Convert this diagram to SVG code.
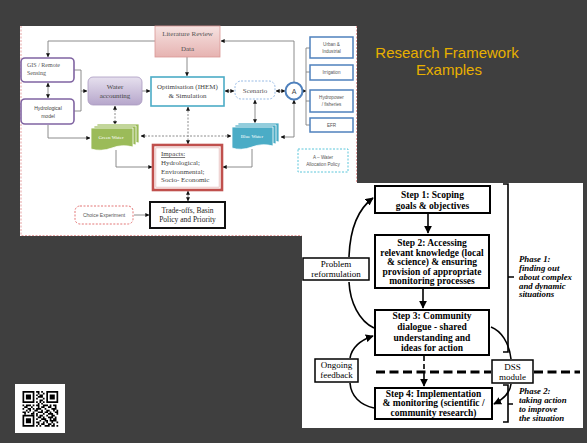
<svg xmlns="http://www.w3.org/2000/svg" width="587" height="443" viewBox="0 0 587 443">
<defs>
<style>
.c{fill:none;stroke:#7f7f7f;stroke-width:0.9}
.d{stroke-dasharray:2,1.5}
.k{fill:none;stroke:#000;stroke-width:1.6}
.sf{font-family:"Liberation Serif",serif}
.ss{font-family:"Liberation Sans",Arial,sans-serif}
.bt{font-family:"Liberation Serif",serif;font-weight:bold;font-size:9.5px;text-anchor:middle;fill:#000}
.ph{font-family:"Liberation Serif",serif;font-weight:bold;font-style:italic;font-size:8.8px;fill:#000}
.rb{fill:#fff;stroke:#4f81bd;stroke-width:1.5}
.rt{font-family:"Liberation Sans",Arial,sans-serif;font-size:4.6px;fill:#555;text-anchor:middle}
</style>
<marker id="a" viewBox="0 0 6 6" refX="5.5" refY="3" markerUnits="userSpaceOnUse" markerWidth="4" markerHeight="4" orient="auto-start-reverse"><path d="M0,0L6,3L0,6z" fill="#111"/></marker>
<marker id="b" viewBox="0 0 10 10" refX="9" refY="5" markerUnits="userSpaceOnUse" markerWidth="8" markerHeight="8" orient="auto-start-reverse"><path d="M0,0L10,5L0,10z" fill="#000"/></marker>
<linearGradient id="gp" x1="0" y1="0" x2="0" y2="1"><stop offset="0" stop-color="#f6e2e1"/><stop offset="1" stop-color="#e6b3b1"/></linearGradient>
<linearGradient id="gv" x1="0" y1="0" x2="0" y2="1"><stop offset="0" stop-color="#e6e0ee"/><stop offset="1" stop-color="#b6a6cb"/></linearGradient>
</defs>
<rect width="587" height="443" fill="#3f3f3f"/>

<!-- top framework image -->
<g id="framework1">
<rect x="20" y="26" width="337" height="210" fill="#fff"/>
<path d="M21,26V235.5H302M356.5,26V183" fill="none" stroke="#e08a8a" stroke-width="0.8" stroke-dasharray="2,1.5"/>
</g>

<g id="connectors1">
<path class="c" d="M155,41H48V57" marker-end="url(#a)"/>
<path class="c" d="M294,82V41H221" marker-end="url(#a)"/>
<path class="c" d="M294,100V137H281" marker-start="url(#a)" marker-end="url(#a)"/>
<path class="c" d="M187,57V76" marker-end="url(#a)"/>
<path class="c" d="M48,83V98" marker-start="url(#a)" marker-end="url(#a)"/>
<path class="c" d="M74,70H81V111H74"/>
<path class="c" d="M81,91H87" marker-end="url(#a)"/>
<path class="c" d="M142,91H150" marker-end="url(#a)"/>
<path class="c" d="M225,91H234" marker-start="url(#a)" marker-end="url(#a)"/>
<path class="c" d="M276,91H285" marker-start="url(#a)" marker-end="url(#a)"/>
<path class="c" d="M303,91H306" marker-end="url(#a)"/>
<path class="c" d="M310,48H306V125H310M306,72H310M306,101H310"/>
<path class="c d" d="M115,106V125" marker-start="url(#a)" marker-end="url(#a)"/>
<path class="c d" d="M141,136H231" marker-start="url(#a)" marker-end="url(#a)"/>
<path class="c d" d="M188,107V144" marker-start="url(#a)" marker-end="url(#a)"/>
<path class="c" d="M255,100V123" marker-start="url(#a)" marker-end="url(#a)"/>
<path class="c" d="M48,125V138H90" marker-end="url(#a)"/>
<path class="c" d="M116,150V167H152" marker-end="url(#a)"/>
<path class="c" d="M252,149V167H223" marker-end="url(#a)"/>
<path class="c" d="M188,191V201" marker-start="url(#a)" marker-end="url(#a)"/>
<path class="c" d="M134,215H149" marker-end="url(#a)"/>
</g>

<g id="lit">
<rect x="155" y="26" width="65" height="31" fill="url(#gp)" stroke="#d99694" stroke-width="0.8"/>
<text class="sf" x="187.5" y="35.5" font-size="7" fill="#555" text-anchor="middle">Literature Review</text>
<text class="sf" x="187.5" y="51" font-size="7" fill="#555" text-anchor="middle">Data</text>
</g>
<g id="gis">
<rect x="21" y="58" width="53" height="24" rx="4" fill="#fff" stroke="#8064a2" stroke-width="1.6"/>
<text class="sf" x="27" y="67" font-size="6" fill="#555">GIS / Remote</text>
<text class="sf" x="27" y="75" font-size="6" fill="#555">Sensing</text>
</g>
<g id="hydro">
<rect x="21" y="99" width="53" height="25" rx="4" fill="#fff" stroke="#8064a2" stroke-width="1.6"/>
<text class="ss" x="48" y="110" font-size="5" fill="#444" text-anchor="middle">Hydrological</text>
<text class="ss" x="48" y="118" font-size="5" fill="#444" text-anchor="middle">model</text>
</g>
<g id="wateracc">
<rect x="88" y="77" width="54" height="28" rx="5" fill="url(#gv)" stroke="#a999c0" stroke-width="0.8"/>
<text class="sf" x="115" y="88.5" font-size="7" fill="#444" text-anchor="middle">Water</text>
<text class="sf" x="115" y="98" font-size="7" fill="#444" text-anchor="middle">accounting</text>
</g>
<g id="optim">
<rect x="151" y="77" width="73" height="29" fill="#fff" stroke="#4bacc6" stroke-width="1.6"/>
<text class="sf" x="187.5" y="88.5" font-size="7" fill="#444" text-anchor="middle">Optimisation (IHEM)</text>
<text class="sf" x="187.5" y="97.5" font-size="7" fill="#444" text-anchor="middle">&amp; Simulation</text>
</g>
<g id="scenario">
<rect x="235" y="81" width="40" height="18" rx="6" fill="#fff" stroke="#8db3e2" stroke-width="0.9" stroke-dasharray="2,1.5"/>
<text class="sf" x="255" y="93" font-size="7" fill="#555" text-anchor="middle">Scenario</text>
</g>
<g id="A">
<circle cx="294" cy="91" r="8.5" fill="#fff" stroke="#4f81bd" stroke-width="2"/>
<text class="ss" x="294" y="93.5" font-size="7" fill="#444" text-anchor="middle">A</text>
</g>
<g id="urban"><rect class="rb" x="310" y="37" width="43" height="21"/><text class="rt" x="331.5" y="46">Urban &amp;</text><text class="rt" x="331.5" y="53">Industrial</text></g>
<g id="irrigation"><rect class="rb" x="310" y="65" width="43" height="15"/><text class="rt" x="331.5" y="74">Irrigation</text></g>
<g id="hydropower"><rect class="rb" x="310" y="90" width="43" height="22"/><text class="rt" x="331.5" y="99">Hydropower</text><text class="rt" x="331.5" y="106">/ fisheries</text></g>
<g id="efr"><rect class="rb" x="310" y="118" width="43" height="14"/><text class="rt" x="331.5" y="126.5">EFR</text></g>
<g id="policy">
<rect x="298" y="149" width="50" height="23" fill="#fff" stroke="#4bc0d6" stroke-width="0.9" stroke-dasharray="2,1.5"/>
<text class="rt" x="323" y="158.5">A – Water</text>
<text class="rt" x="323" y="166">Allocation Policy</text>
</g>
<g id="green">
<path d="M97,124H139V143Q128,140 118,144Q107,148 97,145Z" fill="#9bbb59" stroke="#fff" stroke-width="0.8"/>
<path d="M94,126H136V145Q125,142 115,146Q104,150 94,147Z" fill="#9bbb59" stroke="#fff" stroke-width="0.8"/>
<path d="M91,128H133V147Q122,144 112,148Q101,152 91,149Z" fill="#9bbb59" stroke="#fff" stroke-width="0.8"/>
<text class="sf" x="111" y="139" font-size="5" fill="#fff" text-anchor="middle">Green Water</text>
</g>
<g id="blue">
<path d="M238,123H279V142Q268,139 258,143Q247,147 238,144Z" fill="#4bacc6" stroke="#fff" stroke-width="0.8"/>
<path d="M235,125H276V144Q265,141 255,145Q244,149 235,146Z" fill="#4bacc6" stroke="#fff" stroke-width="0.8"/>
<path d="M232,127H273V146Q262,143 252,147Q241,151 232,148Z" fill="#4bacc6" stroke="#fff" stroke-width="0.8"/>
<text class="sf" x="252" y="138" font-size="5" fill="#fff" text-anchor="middle">Blue Water</text>
</g>
<g id="impacts">
<rect x="153" y="145" width="69" height="45" fill="#fff" stroke="#c0504d" stroke-width="2.6"/>
<rect x="155.8" y="147.8" width="63.4" height="39.4" fill="none" stroke="#e6b9b8" stroke-width="0.8"/>
<text class="sf" x="161" y="156" font-size="7" fill="#444" text-decoration="underline">Impacts:</text>
<text class="sf" x="161" y="165" font-size="7" fill="#444">Hydrological;</text>
<text class="sf" x="161" y="173.5" font-size="7" fill="#444">Environmental;</text>
<text class="sf" x="161" y="182" font-size="7" fill="#444">Socio- Economic</text>
</g>
<g id="tradeoffs">
<rect x="150" y="202" width="75" height="26" fill="#fff" stroke="#111" stroke-width="2"/>
<text class="sf" x="187.5" y="212.5" font-size="7.5" fill="#222" text-anchor="middle">Trade-offs, Basin</text>
<text class="sf" x="187.5" y="222" font-size="7.5" fill="#222" text-anchor="middle">Policy and Priority</text>
</g>
<g id="choice">
<rect x="75" y="206" width="58" height="18" rx="5" fill="#fff" stroke="#e06666" stroke-width="0.9" stroke-dasharray="2,1.5"/>
<text class="ss" x="104" y="216.8" font-size="5" fill="#555" text-anchor="middle">Choice Experiment</text>
</g>

<!-- title -->
<g id="title">
<text class="ss" x="447" y="58" font-size="15" fill="#e8b000" text-anchor="middle">Research Framework</text>
<text class="ss" x="449" y="75" font-size="15" fill="#e8b000" text-anchor="middle">Examples</text>
</g>

<!-- bottom framework image -->
<g id="framework2">
<rect x="302" y="183" width="281" height="245" fill="#fff"/>
</g>
<g id="connectors2">
<path class="k" d="M428,213V233" marker-end="url(#b)"/>
<path class="k" d="M423,288V308" marker-end="url(#b)"/>
<path class="k" d="M424,356V361M424,364V369M424,372V386" marker-end="url(#b)"/>
<path class="k" d="M349,257C350,228 358,209 373,198" marker-end="url(#b)"/>
<path class="k" d="M374,328C359,321 350,302 349,282"/>
<path class="k" d="M350,358C352,347 361,340 373,336" marker-end="url(#b)"/>
<path class="k" d="M374,408C360,405 351,396 350,383"/>
<path class="k" d="M491,327C501,331 509,342 511,359"/>
<path class="k" d="M511,384C510,393 502,400 494,404" marker-end="url(#b)"/>
<path d="M376,372H491M534,372H580" fill="none" stroke="#000" stroke-width="3" stroke-dasharray="9,4.5"/>
<path class="k" d="M503,184H508V352H503M508,277H514"/>
<path class="k" d="M503,385H508V422H503M508,404H513"/>
</g>
<g id="step1">
<rect x="375" y="186" width="115" height="27" fill="#fff" stroke="#000" stroke-width="2"/>
<text class="bt" x="432.5" y="197.5">Step 1: Scoping</text>
<text class="bt" x="432.5" y="208.5">goals &amp; objectives</text>
</g>
<g id="step2">
<rect x="375" y="235" width="114" height="53" fill="#fff" stroke="#000" stroke-width="2"/>
<text class="bt" x="432" y="246">Step 2: Accessing</text>
<text class="bt" x="432" y="255.5">relevant knowledge (local</text>
<text class="bt" x="432" y="265">&amp; science) &amp; ensuring</text>
<text class="bt" x="432" y="274.5">provision of appropriate</text>
<text class="bt" x="432" y="284">monitoring processes</text>
</g>
<g id="step3">
<rect x="375" y="310" width="114" height="45" fill="#fff" stroke="#000" stroke-width="2"/>
<text class="bt" x="432" y="319">Step 3: Community</text>
<text class="bt" x="432" y="329.5">dialogue - shared</text>
<text class="bt" x="432" y="340.5">understanding and</text>
<text class="bt" x="432" y="351">ideas for action</text>
</g>
<g id="step4">
<rect x="375" y="388" width="117" height="31" fill="#fff" stroke="#000" stroke-width="2"/>
<text class="bt" x="433.5" y="396.5" font-size="8">Step 4: Implementation</text>
<text class="bt" x="433.5" y="406" font-size="8">&amp; monitoring (scientific /</text>
<text class="bt" x="433.5" y="415.5" font-size="8">community research)</text>
</g>
<g id="problem">
<rect x="303" y="258" width="66" height="22" fill="#fff" stroke="#000" stroke-width="1.5"/>
<text class="sf" x="336" y="266.5" font-size="9" text-anchor="middle">Problem</text>
<text class="sf" x="336" y="276.5" font-size="9" text-anchor="middle">reformulation</text>
</g>
<g id="ongoing">
<rect x="315" y="359" width="43" height="23" fill="#fff" stroke="#000" stroke-width="1.5"/>
<text class="sf" x="336.5" y="368" font-size="9" text-anchor="middle">Ongoing</text>
<text class="sf" x="336.5" y="378" font-size="9" text-anchor="middle">feedback</text>
</g>
<g id="dss">
<rect x="492" y="360" width="41" height="23" fill="#fff" stroke="#000" stroke-width="1.5"/>
<text class="sf" x="512.5" y="369.5" font-size="9" text-anchor="middle">DSS</text>
<text class="sf" x="512.5" y="380" font-size="9" text-anchor="middle">module</text>
</g>
<g id="phase1">
<text class="ph" x="519" y="262">Phase 1:</text>
<text class="ph" x="519" y="271">finding out</text>
<text class="ph" x="519" y="280">about complex</text>
<text class="ph" x="519" y="288.5">and dynamic</text>
<text class="ph" x="519" y="297">situations</text>
</g>
<g id="phase2">
<text class="ph" x="519" y="394">Phase 2:</text>
<text class="ph" x="519" y="403">taking action</text>
<text class="ph" x="519" y="412">to improve</text>
<text class="ph" x="519" y="421">the situation</text>
</g>

<!-- QR code -->
<g id="qr">
<rect x="15" y="384" width="50" height="49" fill="#fff"/>
<g transform="translate(22.5,391) scale(1.7)">
<path fill="#000" d="M0,0h7v7h-7zM14,0h7v7h-7zM0,14h7v7h-7z"/>
<path fill="#fff" d="M1,1h5v5h-5zM15,1h5v5h-5zM1,15h5v5h-5z"/>
<path fill="#000" d="M2,2h3v3h-3zM16,2h3v3h-3zM2,16h3v3h-3z"/>
<path fill="#000" d="M8,0h2v1h-2zM11,0h1v1h-1zM9,1h1v1h-1zM12,1h1v1h-1zM8,2h1v1h-1zM10,2h2v1h-2zM9,3h3v1h-3zM8,4h1v1h-1zM12,4h1v1h-1zM10,5h2v1h-2zM8,6h1v1h-1zM10,6h1v1h-1zM12,6h1v1h-1zM9,7h1v1h-1zM11,7h1v1h-1zM0,8h1v1h-1zM2,8h3v1h-3zM6,8h1v1h-1zM8,8h2v1h-2zM12,8h3v1h-3zM16,8h1v1h-1zM18,8h2v1h-2zM1,9h2v1h-2zM5,9h1v1h-1zM9,9h1v1h-1zM11,9h2v1h-2zM15,9h2v1h-2zM19,9h1v1h-1zM0,10h1v1h-1zM3,10h2v1h-2zM6,10h1v1h-1zM8,10h3v1h-3zM13,10h1v1h-1zM17,10h3v1h-3zM2,11h1v1h-1zM4,11h1v1h-1zM7,11h2v1h-2zM11,11h1v1h-1zM14,11h2v1h-2zM18,11h1v1h-1zM20,11h1v1h-1zM0,12h2v1h-2zM3,12h1v1h-1zM6,12h1v1h-1zM9,12h3v1h-3zM13,12h2v1h-2zM16,12h1v1h-1zM19,12h2v1h-2zM1,13h1v1h-1zM5,13h2v1h-2zM8,13h1v1h-1zM12,13h1v1h-1zM15,13h3v1h-3zM20,13h1v1h-1zM8,14h1v1h-1zM10,14h2v1h-2zM14,14h1v1h-1zM17,14h2v1h-2zM9,15h2v1h-2zM12,15h1v1h-1zM15,15h3v1h-3zM19,15h1v1h-1zM8,16h1v1h-1zM11,16h3v1h-3zM16,16h1v1h-1zM18,16h2v1h-2zM10,17h1v1h-1zM13,17h2v1h-2zM16,17h4v1h-4zM8,18h2v1h-2zM12,18h1v1h-1zM14,18h1v1h-1zM17,18h1v1h-1zM20,18h1v1h-1zM9,19h1v1h-1zM11,19h2v1h-2zM15,19h2v1h-2zM18,19h1v1h-1zM8,20h1v1h-1zM10,20h1v1h-1zM13,20h3v1h-3zM17,20h2v1h-2zM20,20h1v1h-1z"/>
</g>
</g>
</svg>
